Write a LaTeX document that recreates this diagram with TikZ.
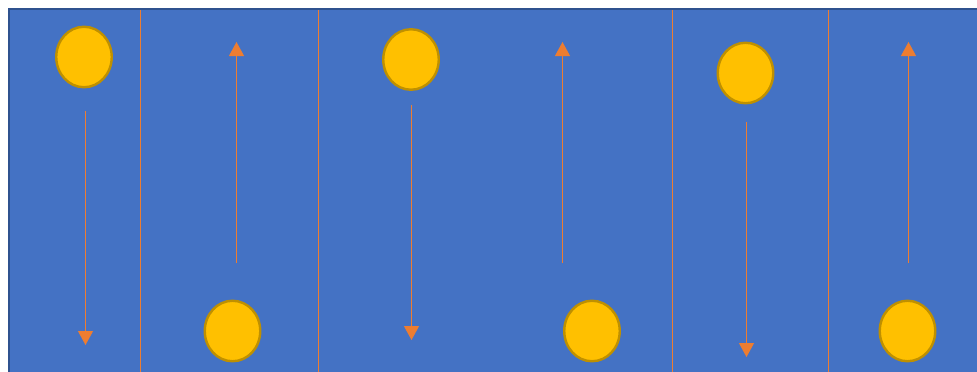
\documentclass[tikz,border=0pt]{standalone}
\usetikzlibrary{arrows.meta,shapes.geometric}
\definecolor{bgblue}{HTML}{4472C4}
\definecolor{bgborder}{HTML}{2F528F}
\definecolor{sunfill}{HTML}{FFC000}
\definecolor{sunedge}{HTML}{BF9000}
\definecolor{arrowor}{HTML}{ED7D31}
\tikzset{
  ball/.style={ellipse, draw=sunedge, fill=sunfill, line width=2.4pt, minimum width=55.5pt, minimum height=60.5pt, inner sep=0pt},
  divider/.style={draw=arrowor, line width=1.3pt},
  flow/.style={draw=arrowor, line width=1.1pt, -{Triangle[length=14pt,width=15pt,fill=arrowor]}}
}
\begin{document}
\begin{tikzpicture}[x=1pt,y=-1pt]
\useasboundingbox (0,0) rectangle (977,372);
\clip (0,0) rectangle (977,372);
\fill[white] (0,0) rectangle (977,372);
\draw[fill=bgblue, draw=bgborder, line width=2pt] (9,9) rectangle (1000,400);
% dividers
\foreach \xx/\nm in {140.5/d1,318.5/d2,672.5/d3,828.5/d4}{
  \coordinate (\nm t) at (\xx,10);
  \coordinate (\nm b) at (\xx,372);
  \draw[divider] (\nm t) -- (\nm b);
}
% balls
\node[ball] (b1) at (84,57) {};
\node[ball] (b2) at (232.5,331) {};
\node[ball] (b3) at (411,59.5) {};
\node[ball] (b4) at (592,331) {};
\node[ball] (b5) at (745.5,73) {};
\node[ball] (b6) at (907.5,331) {};
% arrow ends
\coordinate (a1s) at (85.5,111);  \coordinate (a1e) at (85.5,345);
\coordinate (a2s) at (236.5,263); \coordinate (a2e) at (236.5,42);
\coordinate (a3s) at (411.5,105); \coordinate (a3e) at (411.5,340);
\coordinate (a4s) at (562.5,263); \coordinate (a4e) at (562.5,42);
\coordinate (a5s) at (746.5,122); \coordinate (a5e) at (746.5,357);
\coordinate (a6s) at (908.5,263); \coordinate (a6e) at (908.5,42);
\foreach \i in {1,...,6}{
  \draw[flow] (a\i s) -- (a\i e);
}
\end{tikzpicture}
\end{document}
